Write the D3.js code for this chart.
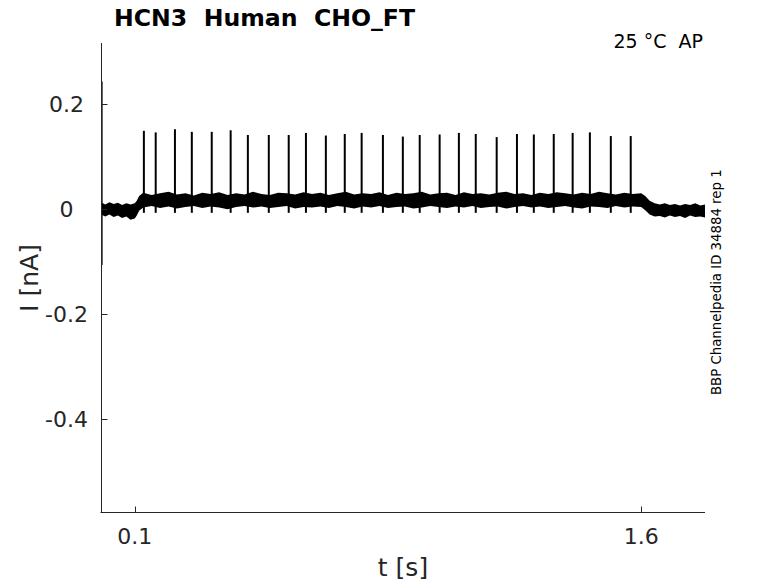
<!DOCTYPE html>
<html>
<head>
<meta charset="utf-8">
<script src="https://cdn.jsdelivr.net/npm/d3@7"></script>
<style>
  html, body { margin: 0; padding: 0; background: #fff; }
  svg { display: block; font-family: "DejaVu Sans", sans-serif; }
  text { white-space: pre; }
</style>
</head>
<body>
<svg id="chart" width="778" height="583"></svg>
<script>
// ---- data ----
const titleText = "HCN3  Human  CHO_FT";
const condText = "25 °C  AP";
const sideText = "BBP Channelpedia ID 34884 rep 1";
const xLabel = "t [s]";
const yLabel = "I [nA]";

const xTicks = [0.1, 1.6];
const xTickLabels = ["0.1", "1.6"];
const yTicks = [0.2, 0, -0.2, -0.4];
const yTickLabels = ["0.2", "0", "-0.2", "-0.4"];

// spike times (s) and peak currents (nA)
const spikeTimes = [0.127, 0.162, 0.219, 0.269, 0.328, 0.384, 0.435, 0.497, 0.556,
  0.607, 0.666, 0.722, 0.772, 0.835, 0.894, 0.944, 1.003, 1.060, 1.110, 1.172,
  1.232, 1.282, 1.341, 1.397, 1.448, 1.510, 1.569];
const spikePeaks = [0.149, 0.146, 0.152, 0.147, 0.147, 0.150, 0.141, 0.141, 0.141,
  0.145, 0.140, 0.143, 0.145, 0.141, 0.138, 0.141, 0.142, 0.145, 0.143, 0.137,
  0.143, 0.142, 0.143, 0.145, 0.146, 0.139, 0.139];
const spikeDip = -0.007;

// baseline noise envelope, before stimulus: time (s), upper / lower edge (nA)
const preT  = [0.003, 0.0125, 0.025, 0.0375, 0.05, 0.0625, 0.075, 0.0875, 0.1, 0.106, 0.113];
const preHi = [0.012, 0.009, 0.013, 0.010, 0.012, 0.008, 0.011, 0.009, 0.011, 0.016, 0.025];
const preLo = [-0.011, -0.014, -0.010, -0.015, -0.012, -0.017, -0.014, -0.020, -0.018, -0.012, -0.003];
// during stimulus
const stimT = [0.125, 0.15, 0.175, 0.2, 0.225, 0.25, 0.275, 0.3, 0.325, 0.35,
  0.375, 0.4, 0.425, 0.45, 0.475, 0.5, 0.525, 0.55, 0.575, 0.6,
  0.625, 0.65, 0.675, 0.7, 0.725, 0.75, 0.775, 0.8, 0.825, 0.85,
  0.875, 0.9, 0.925, 0.95, 0.975, 1.0, 1.025, 1.05, 1.075, 1.1,
  1.125, 1.15, 1.175, 1.2, 1.225, 1.25, 1.275, 1.3, 1.325, 1.35,
  1.375, 1.4, 1.425, 1.45, 1.475, 1.5, 1.525, 1.55, 1.575, 1.6];
const stimHi = [0.031, 0.027, 0.030, 0.033, 0.028, 0.030, 0.026, 0.031, 0.029, 0.032,
  0.027, 0.030, 0.028, 0.033, 0.029, 0.027, 0.031, 0.030, 0.028, 0.032,
  0.029, 0.031, 0.027, 0.030, 0.033, 0.028, 0.030, 0.029, 0.032, 0.027,
  0.031, 0.029, 0.030, 0.033, 0.028, 0.030, 0.031, 0.027, 0.032, 0.029,
  0.030, 0.028, 0.031, 0.033, 0.029, 0.030, 0.027, 0.031, 0.029, 0.032,
  0.030, 0.028, 0.031, 0.029, 0.033, 0.030, 0.028, 0.031, 0.029, 0.030];
const stimLo = [0.003, 0.006, 0.002, 0.005, 0.001, 0.004, 0.006, 0.002, 0.005, 0.003,
  0.000, 0.004, 0.006, 0.003, 0.005, 0.002, 0.004, 0.006, 0.001, 0.004,
  0.003, 0.005, 0.002, 0.006, 0.004, 0.001, 0.005, 0.003, 0.006, 0.002,
  0.004, 0.005, 0.001, 0.003, 0.006, 0.004, 0.002, 0.005, 0.003, 0.006,
  0.002, 0.004, 0.005, 0.001, 0.004, 0.006, 0.003, 0.005, 0.002, 0.004,
  0.006, 0.003, 0.001, 0.005, 0.004, 0.002, 0.006, 0.003, 0.005, 0.004];
// after stimulus
const postT  = [1.612, 1.625, 1.64, 1.655, 1.67, 1.685, 1.7, 1.715, 1.73, 1.745, 1.76, 1.775, 1.789];
const postHi = [0.025, 0.016, 0.011, 0.009, 0.011, 0.008, 0.010, 0.007, 0.010, 0.008, 0.011, 0.007, 0.009];
const postLo = [-0.002, -0.010, -0.014, -0.013, -0.016, -0.012, -0.015, -0.013, -0.017, -0.012, -0.015, -0.014, -0.016];

// initial capacitive transient
const transientT = [0.003, 0.003];
const transientI = [0.243, -0.106];

// ---- drawing ----
const svg = d3.select("#chart");
svg.append("rect").attr("width", 778).attr("height", 583).attr("fill", "#fff");

const x = d3.scaleLinear().domain([0, 1.789]).range([101, 705]);
const y = d3.scaleLinear().domain([-0.576, 0.316]).range([512, 43]);
const axisColor = "#262626";

// trace: noise band
const allT = preT.concat(stimT, postT);
const allHi = preHi.concat(stimHi, postHi);
const allLo = preLo.concat(stimLo, postLo);
const band = allT.map((t, i) => ({t, hi: allHi[i], lo: allLo[i]}));
svg.append("path")
  .datum(band)
  .attr("d", d3.area().x(d => x(d.t)).y0(d => y(d.lo)).y1(d => y(d.hi)))
  .attr("fill", "#000");

// spikes
svg.append("g").selectAll("line")
  .data(spikeTimes.map((t, i) => ({t, p: spikePeaks[i]})))
  .join("line")
  .attr("x1", d => x(d.t)).attr("x2", d => x(d.t))
  .attr("y1", y(spikeDip)).attr("y2", d => y(d.p))
  .attr("stroke", "#000").attr("stroke-width", 2);

// transient
svg.append("line")
  .attr("x1", x(transientT[0])).attr("x2", x(transientT[1]))
  .attr("y1", y(transientI[0])).attr("y2", y(transientI[1]))
  .attr("stroke", "#000").attr("stroke-width", 1.2);

// axes
const gx = svg.append("g").attr("transform", "translate(0,512.5)");
gx.append("line").attr("x1", 100.5).attr("x2", 705).attr("y1", 0).attr("y2", 0)
  .attr("stroke", axisColor).attr("stroke-width", 1);
gx.selectAll("line.tick").data(xTicks).join("line").attr("class", "tick")
  .attr("x1", d => Math.round(x(d)) + 0.5).attr("x2", d => Math.round(x(d)) + 0.5)
  .attr("y1", 0).attr("y2", -6).attr("stroke", axisColor);
gx.selectAll("text").data(xTicks).join("text")
  .attr("x", d => x(d)).attr("y", 31)
  .attr("text-anchor", "middle").attr("font-size", 22).attr("fill", axisColor)
  .text((d, i) => xTickLabels[i]);

const gy = svg.append("g").attr("transform", "translate(101.5,0)");
gy.append("line").attr("x1", 0).attr("x2", 0).attr("y1", 43).attr("y2", 512.5)
  .attr("stroke", axisColor).attr("stroke-width", 1);
gy.selectAll("line.tick").data(yTicks).join("line").attr("class", "tick")
  .attr("y1", d => Math.round(y(d)) + 0.5).attr("y2", d => Math.round(y(d)) + 0.5)
  .attr("x1", 0).attr("x2", 6).attr("stroke", axisColor);
gy.selectAll("text").data(yTicks).join("text")
  .attr("x", -35).attr("y", d => y(d)).attr("dy", "0.36em")
  .attr("text-anchor", "middle").attr("font-size", 22).attr("fill", axisColor)
  .text((d, i) => yTickLabels[i]);

// labels
svg.append("text").attr("x", 403).attr("y", 576).attr("text-anchor", "middle")
  .attr("font-size", 25).attr("fill", axisColor).text(xLabel);
svg.append("text").attr("transform", "translate(38,278) rotate(-90)")
  .attr("text-anchor", "middle").attr("font-size", 25).attr("fill", axisColor).text(yLabel);

svg.append("text").attr("x", 114).attr("y", 26)
  .attr("font-size", 23.6).attr("font-weight", "bold").attr("fill", "#000").text(titleText);
svg.append("text").attr("x", 703).attr("y", 48).attr("text-anchor", "end")
  .attr("font-size", 19).attr("fill", "#000").text(condText);
svg.append("text").attr("transform", "translate(721,395) rotate(-90)")
  .attr("font-size", 13.3).attr("fill", "#000").text(sideText);
</script>
</body>
</html>
